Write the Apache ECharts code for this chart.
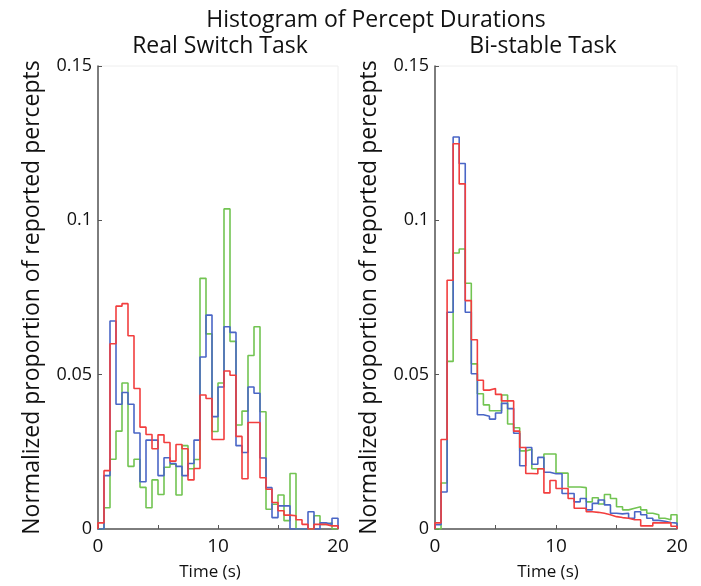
<!DOCTYPE html>
<html>
<head>
<meta charset="utf-8">
<script src="https://cdn.jsdelivr.net/npm/echarts@6/dist/echarts.min.js"></script>
<style>
  html, body { margin: 0; padding: 0; background: #fff; }
  #chart { width: 701px; height: 586px; }
</style>
</head>
<body>
<div id="chart"></div>
<script>
// bin width in seconds, 40 bins from 0 to 20 s
var binWidth = 0.5;
var yTicks = [0, 0.05, 0.1, 0.15];

// Real Switch Task
var realBlue = [0, 0.0173, 0.0674, 0.0404, 0.0442, 0.0404, 0.0311, 0.0153, 0.0288, 0.0288,
  0.0173, 0.0231, 0.0212, 0.0203, 0.0173, 0.0212, 0.0288, 0.0557, 0.0693, 0.0364,
  0.046, 0.0655, 0.0637, 0.027, 0.0248, 0.046, 0.044, 0.023, 0.0134, 0.0037,
  0.0075, 0.0075, 0, 0, 0, 0.0056, 0, 0.002, 0.0015, 0.0035];
var realGreen = [0, 0.0069, 0.0226, 0.0317, 0.0473, 0.0203, 0.0226, 0.0135, 0.0069, 0.0159,
  0.0112, 0.02, 0.021, 0.011, 0.027, 0.0195, 0.0225, 0.0812, 0.0632, 0.0316,
  0.0473, 0.1037, 0.0608, 0.0337, 0.0382, 0.0562, 0.0655, 0.038, 0.0064, 0.008,
  0.011, 0.0027, 0.018, 0, 0, 0, 0.0043, 0.0015, 0.002, 0];
var realRed = [0.002, 0.0189, 0.060, 0.0722, 0.073, 0.0626, 0.0455, 0.033, 0.0306, 0.026,
  0.0305, 0.028, 0.022, 0.0274, 0.026, 0.0159, 0.0196, 0.0434, 0.0423, 0.029,
  0.029, 0.0512, 0.0498, 0.030, 0.0163, 0.0345, 0.0345, 0.0166, 0.0129, 0.0086,
  0.0059, 0.0045, 0.0043, 0.003, 0.0015, 0, 0.0015, 0.0015, 0.001, 0.001];

// Bi-stable Task
var biBlue = [0.0014, 0.012, 0.0702, 0.127, 0.1184, 0.0702, 0.0503, 0.037, 0.0365, 0.0356,
  0.0376, 0.0407, 0.039, 0.031, 0.0205, 0.0264, 0.021, 0.0232, 0.0184, 0.0179,
  0.0179, 0.0115, 0.0115, 0.0088, 0.0099, 0.0062, 0.0083, 0.0094, 0.0078, 0.0051,
  0.0049, 0.0051, 0.0035, 0.0056, 0.0046, 0.0035, 0.0028, 0.0025, 0.0021, 0.0019];
var biGreen = [0, 0.0149, 0.0543, 0.0894, 0.0907, 0.0796, 0.0535, 0.0438, 0.0402, 0.0383,
  0.0383, 0.0434, 0.034, 0.0328, 0.0253, 0.0258, 0.0195, 0.0195, 0.0243, 0.0243,
  0.0181, 0.0181, 0.0136, 0.0136, 0.0134, 0.0088, 0.0101, 0.0081, 0.0112, 0.0099,
  0.0072, 0.0062, 0.0067, 0.0072, 0.0062, 0.0051, 0.0046, 0.0035, 0.003, 0.0046];
var biRed = [0.002, 0.029, 0.0806, 0.1248, 0.1118, 0.074, 0.0613, 0.0482, 0.045, 0.0455,
  0.0436, 0.0415, 0.0415, 0.0317, 0.0264, 0.018, 0.0179, 0.0195, 0.0117, 0.0157,
  0.0131, 0.0131, 0.0099, 0.0067, 0.0067, 0.0056, 0.0054, 0.0051, 0.0046, 0.004,
  0.0037, 0.0035, 0.003, 0.003, 0.001, 0.001, 0.002, 0.002, 0.002, 0.0009];

var FONT = '"Open Sans", "DejaVu Sans", sans-serif';
var colors = { blue: '#4a66c6', green: '#72c452', red: '#f23e3e' };

// stairs outline of a histogram: up at left edge, across each bin, down at the right edge
function outline(vals) {
  var pts = [[0, 0]];
  for (var i = 0; i < vals.length; i++) {
    pts.push([i * binWidth, vals[i]]);
  }
  var end = vals.length * binWidth;
  pts.push([end, vals[vals.length - 1]]);
  pts.push([end, 0]);
  return pts;
}

function xAxisFor(idx) {
  return {
    type: 'value', gridIndex: idx, min: 0, max: 20, interval: 5,
    name: 'Time (s)', nameLocation: 'middle', nameGap: 35,
    nameTextStyle: { fontFamily: FONT, fontSize: 17, color: '#111', padding: [0, 16, 0, 0] },
    axisLine: { lineStyle: { color: '#555', width: 1.5 } },
    axisTick: { inside: true, length: 4, lineStyle: { color: '#555', width: 1 } },
    axisLabel: {
      fontFamily: FONT, fontSize: 19, color: '#111', margin: 8,
      formatter: function (v) { return v % 10 === 0 ? String(v) : ''; }
    },
    splitLine: { show: false }
  };
}

function yAxisFor(idx) {
  return {
    type: 'value', gridIndex: idx, min: 0, max: 0.15, interval: 0.05,
    name: 'Normalized proportion of reported percepts', nameLocation: 'middle', nameGap: 54,
    nameTextStyle: { fontFamily: FONT, fontSize: 23, color: '#111' },
    axisLine: { show: true, lineStyle: { color: '#555', width: 1.5 } },
    axisTick: { show: true, inside: true, length: 4, lineStyle: { color: '#555', width: 1 } },
    axisLabel: {
      fontFamily: FONT, fontSize: 18, color: '#111', margin: 6,
      formatter: function (v) { return String(yTicks.indexOf(+v.toFixed(2)) >= 0 ? +v.toFixed(2) : v); }
    },
    splitLine: { show: false }
  };
}

function histSeries(idx, vals, color) {
  return {
    type: 'line', xAxisIndex: idx, yAxisIndex: idx, step: 'end',
    data: outline(vals), symbol: 'none',
    lineStyle: { color: color, width: 1.6 },
    silent: true
  };
}

var chart = echarts.init(document.getElementById('chart'), null, { renderer: 'canvas' });
chart.setOption({
  animation: false,
  backgroundColor: '#fff',
  grid: [
    { left: 98, top: 66, width: 240, height: 467, show: true, borderColor: '#eeeeee', borderWidth: 1 },
    { left: 435, top: 66, width: 242, height: 467, show: true, borderColor: '#eeeeee', borderWidth: 1 }
  ],
  xAxis: [xAxisFor(0), xAxisFor(1)],
  yAxis: [yAxisFor(0), yAxisFor(1)],
  graphic: [
    { type: 'text', x: 376, y: 20, style: { text: 'Histogram of Percept Durations', font: '23px ' + FONT, fill: '#111', align: 'center', verticalAlign: 'middle' } },
    { type: 'text', x: 220, y: 46, style: { text: 'Real Switch Task', font: '23px ' + FONT, fill: '#111', align: 'center', verticalAlign: 'middle' } },
    { type: 'text', x: 543, y: 46, style: { text: 'Bi-stable Task', font: '23px ' + FONT, fill: '#111', align: 'center', verticalAlign: 'middle' } }
  ],
  series: [
    histSeries(0, realGreen, colors.green),
    histSeries(0, realBlue, colors.blue),
    histSeries(0, realRed, colors.red),
    histSeries(1, biGreen, colors.green),
    histSeries(1, biBlue, colors.blue),
    histSeries(1, biRed, colors.red)
  ]
});
</script>
</body>
</html>
